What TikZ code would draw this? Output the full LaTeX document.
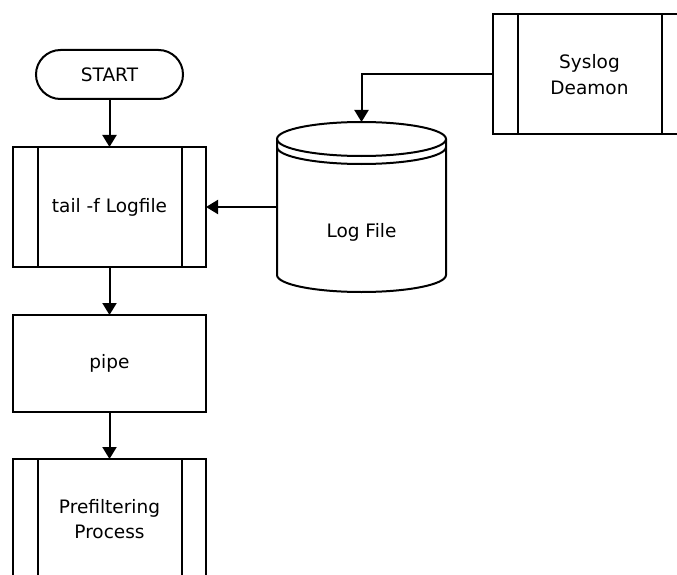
\documentclass[tikz,border=0pt]{standalone}
\usepackage{fontspec}
\setmainfont{DejaVu Sans}
\usetikzlibrary{arrows.meta}
\begin{document}
\begin{tikzpicture}[x=1pt,y=-1pt,
  every node/.style={font=\fontsize{18.5}{25.5}\selectfont, align=center, inner sep=0pt, outer sep=0pt},
  ln/.style={line width=2pt},
  procbox/.style={ln, draw, rectangle, minimum width=193pt, minimum height=120pt},
  plainbox/.style={ln, draw, rectangle, minimum width=193pt, minimum height=97pt},
  termbox/.style={ln, draw, rectangle, rounded corners=24.5pt, minimum width=147pt, minimum height=49pt},
  arr/.style={ln, -{Triangle[width=14pt,length=12pt]}}]
\fill[white] (0,0) rectangle (677,575);
\useasboundingbox (0,0) rectangle (677,575);

% nodes
\node[termbox] (start) at (109.5,74.5) {START};
\node[procbox] (tail) at (109.5,207) {tail -f Logfile};
\node[plainbox] (pipe) at (109.5,363.5) {pipe};
\node[procbox] (prefilter) at (109.5,519) {Prefiltering\\Process};
\node[procbox] (syslog) at (589.5,74.5) {Syslog\\Deamon};
\node[rectangle, minimum width=169pt, minimum height=170pt] (lf) at (361.5,207) {};
\node (lflabel) at (361.5,232) {Log File};

% inner lines of predefined-process boxes
\foreach \b in {tail,prefilter,syslog}{
  \draw[ln] ([xshift=24.5pt]\b.north west) -- ([xshift=24.5pt]\b.south west);
  \draw[ln] ([xshift=-24.5pt]\b.north east) -- ([xshift=-24.5pt]\b.south east);
}

% cylinder (Log File)
\draw[ln] (361.5,139) ellipse [x radius=84.5pt, y radius=17pt];
\draw[ln] (277,147) arc [start angle=180, end angle=360, x radius=84.5pt, y radius=17pt];
\draw[ln] (277,139) -- (277,275) arc [start angle=180, end angle=360, x radius=84.5pt, y radius=17pt] -- (446,139);

% connectors
\draw[arr] (start.south) -- (tail.north);
\draw[arr] (tail.south) -- (pipe.north);
\draw[arr] (pipe.south) -- (prefilter.north);
\draw[arr] (syslog.west) -| (lf.north);
\draw[arr] (lf.west) -- (tail.east);
\end{tikzpicture}
\end{document}
